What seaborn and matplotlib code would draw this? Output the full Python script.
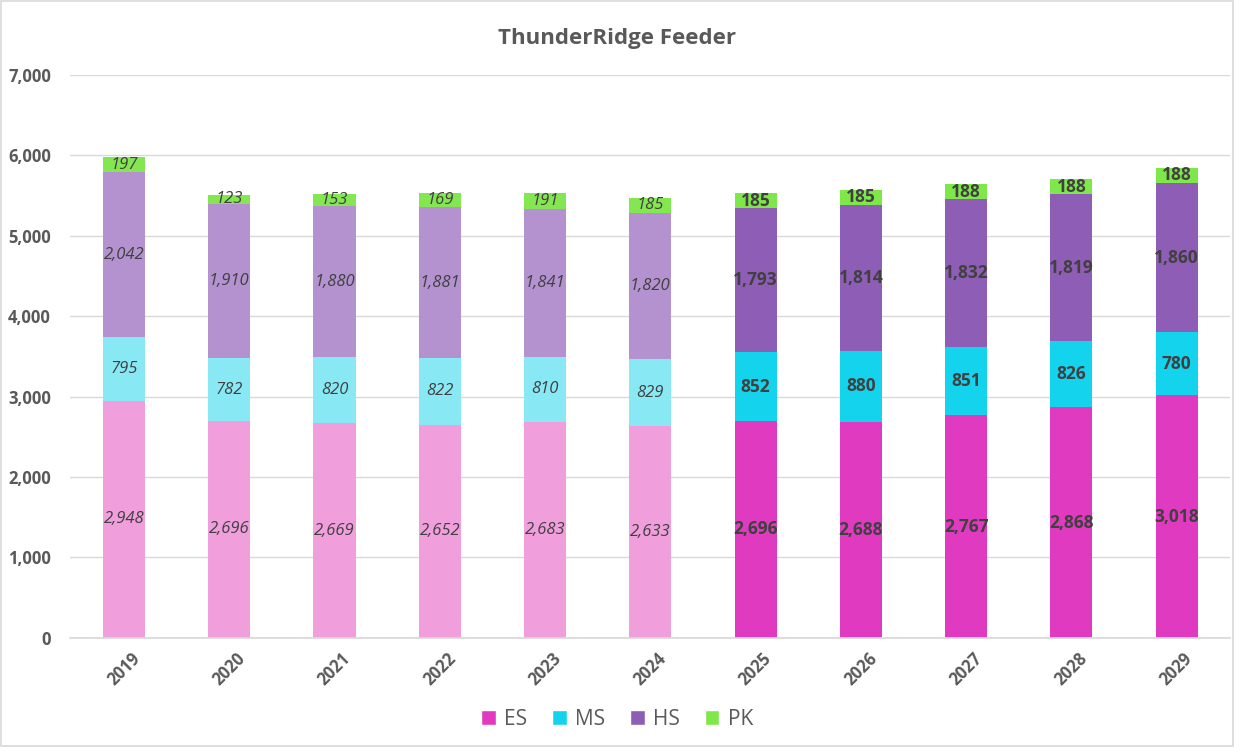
import numpy as np
import pandas as pd
import matplotlib
matplotlib.use("Agg")
import matplotlib.pyplot as plt
import seaborn as sns
from matplotlib.patches import Patch

years = ["2019", "2020", "2021", "2022", "2023", "2024",
         "2025", "2026", "2027", "2028", "2029"]
es = [2948, 2696, 2669, 2652, 2683, 2633, 2696, 2688, 2767, 2868, 3018]
ms = [795, 782, 820, 822, 810, 829, 852, 880, 851, 826, 780]
hs = [2042, 1910, 1880, 1881, 1841, 1820, 1793, 1814, 1832, 1819, 1860]
pk = [197, 123, 153, 169, 191, 185, 185, 185, 188, 188, 188]
n_actual = 6  # 2019-2024 are actuals, rest projected

series = ["ES", "MS", "HS", "PK"]
values = {"ES": es, "MS": ms, "HS": hs, "PK": pk}
dark = {"ES": "#E03BC0", "MS": "#14D3EC", "HS": "#8E5DB5", "PK": "#7EE84A"}
light = {"ES": "#F09EDC", "MS": "#88E9F5", "HS": "#B392CF", "PK": "#84E651"}

sns.set_theme(style="white")
plt.rcParams["font.family"] = ["Open Sans", "DejaVu Sans"]

fig = plt.figure(figsize=(12.34, 7.47), dpi=100)
ax = fig.add_axes([0.057, 0.146, 0.94, 0.754])

bottom = np.zeros(len(years))
for name in series:
    vals = np.array(values[name])
    df = pd.DataFrame({"year": years, "val": vals})
    n_before = len(ax.patches)
    sns.barplot(data=df, x="year", y="val", bottom=bottom, color=dark[name],
                width=0.4, saturation=1, ax=ax, linewidth=0)
    bars = ax.patches[n_before:]
    for i, bar in enumerate(bars):
        hist = i < n_actual
        if hist:
            bar.set_facecolor(light[name])
        ax.text(bar.get_x() + bar.get_width() / 2, bottom[i] + vals[i] / 2,
                f"{vals[i]:,}", ha="center", va="center",
                fontsize=12 if hist else 12.5,
                style="italic" if hist else "normal",
                fontweight="normal" if hist else "bold",
                color="#404040")
    bottom = bottom + vals

ax.set_ylim(0, 7000)
ax.set_xlim(-0.51, 10.51)
ax.set_yticks(range(0, 7001, 1000))
ax.yaxis.set_major_formatter(matplotlib.ticker.FuncFormatter(lambda v, p: f"{int(v):,}"))
ax.grid(axis="y", color="#D9D9D9", linewidth=1)
ax.set_axisbelow(True)
for s in ["top", "right", "left"]:
    ax.spines[s].set_visible(False)
ax.spines["bottom"].set_color("#D9D9D9")
ax.set_xlabel("")
ax.set_ylabel("")
ax.tick_params(axis="y", labelsize=12, labelcolor="#595959", length=0, pad=14)
ax.tick_params(axis="x", labelsize=12, labelcolor="#595959", length=0, pad=8)
plt.setp(ax.get_xticklabels(), rotation=45, ha="center", fontweight="bold")
plt.setp(ax.get_yticklabels(), fontweight="bold")

fig.text(0.5, 0.948, "ThunderRidge Feeder", ha="center", va="center",
         fontsize=16, fontweight="bold", color="#595959")

handles = [Patch(facecolor=dark[n], label=n) for n in series]
fig.legend(handles=handles, loc="center", bbox_to_anchor=(0.5, 0.037), ncol=4,
           frameon=False, fontsize=15, handlelength=0.7, handleheight=0.7,
           handletextpad=0.4, columnspacing=1.2, labelcolor="#595959")

fig.patches.append(plt.Rectangle((0.001, 0.001), 0.998, 0.997, transform=fig.transFigure,
                                 fill=False, edgecolor="#D9D9D9", linewidth=1.2))

fig.savefig("out.png", dpi=100)
